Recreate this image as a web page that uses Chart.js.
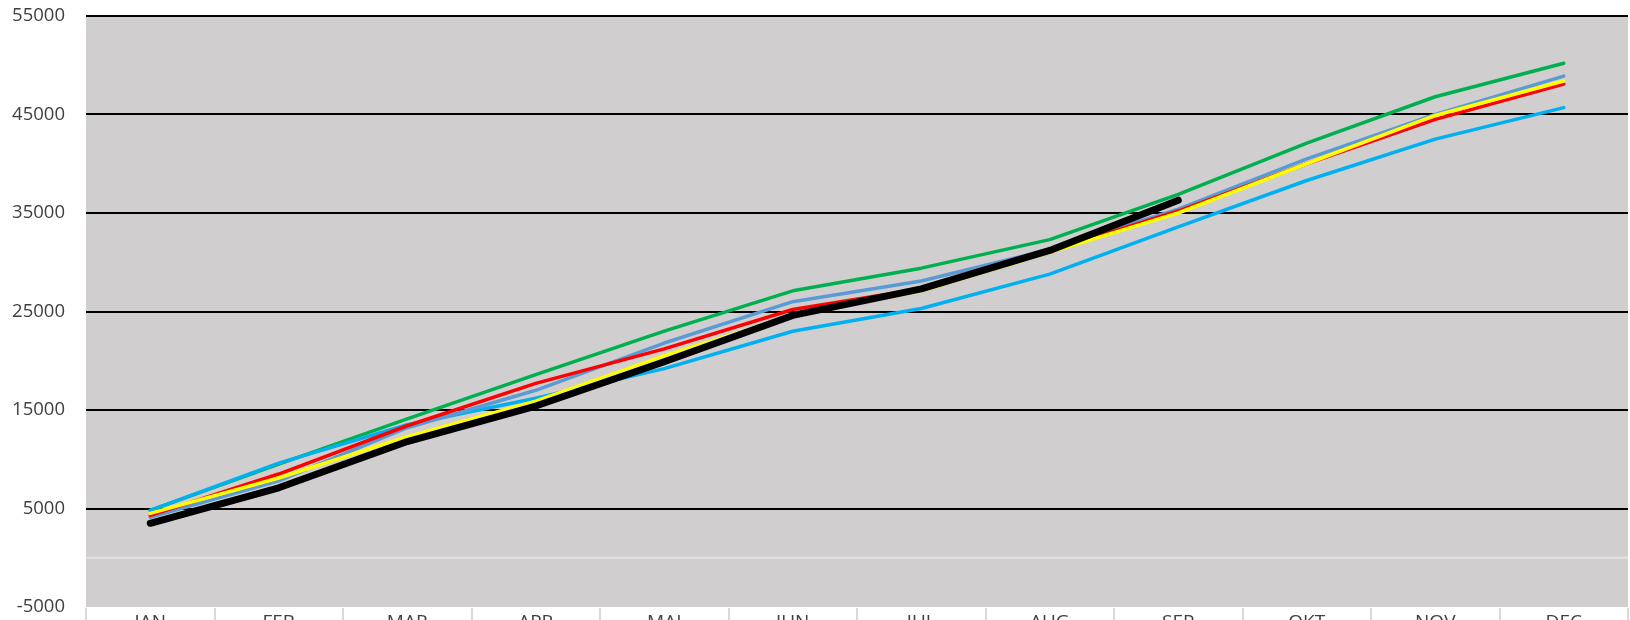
<!DOCTYPE html>
<html>
<head>
<meta charset="utf-8">
<script src="https://cdn.jsdelivr.net/npm/chart.js@4"></script>
<style>
    html, body { margin: 0; padding: 0; background: #fff; overflow: hidden; }
    #wrap { width: 1630px; height: 660px; position: relative; }
</style>
</head>
<body>
<div id="wrap"><canvas id="chart"></canvas></div>
<script>
const months = ["JAN", "FEB", "MAR", "APR", "MAI", "JUN", "JUL", "AUG", "SEP", "OKT", "NOV", "DEC"];

const greenLine = [4800, 9500, 14100, 18600, 23000, 27100, 29400, 32300, 36900, 42100, 46800, 50200];
const cyanLine = [4800, 9600, 13500, 16200, 19200, 23000, 25300, 28800, 33600, 38300, 42500, 45700];
const blueLine = [4100, 7800, 13200, 17000, 21800, 26000, 28100, 31300, 35400, 40500, 45000, 48900];
const redLine = [4300, 8500, 13400, 17700, 21200, 25200, 27300, 31100, 35200, 40000, 44500, 48100];
const yellowLine = [4500, 8100, 12300, 15900, 20500, 24600, 27100, 31000, 35000, 40000, 44900, 48400];
const blackLine = [3500, 7100, 11800, 15400, 19900, 24600, 27300, 31200, 36300];

// grey plot area + light zero line
const plotBg = {
    id: "plotBg",
    beforeDraw(chart) {
        const { ctx, chartArea: a } = chart;
        ctx.save();
        ctx.fillStyle = "#d0cece";
        ctx.fillRect(a.left, a.top, a.right - a.left, a.bottom - a.top);
        ctx.restore();
    },
    beforeDatasetsDraw(chart) {
        const { ctx, chartArea: a } = chart;
        const y = chart.scales.y.getPixelForValue(0);
        ctx.save();
        ctx.strokeStyle = "#e4e2e2";
        ctx.lineWidth = 2;
        ctx.beginPath();
        ctx.moveTo(a.left, y);
        ctx.lineTo(a.right, y);
        ctx.stroke();
        ctx.restore();
    },
};

const line = (data, color, width, order) => ({
    data,
    borderColor: color,
    borderWidth: width,
    pointRadius: 0,
    tension: 0,
    fill: false,
    borderCapStyle: "round",
    borderJoinStyle: "round",
    order,
});

new Chart(document.getElementById("chart"), {
    type: "line",
    data: {
        labels: months,
        datasets: [
            line(greenLine, "#00b050", 3.5, 5),
            line(cyanLine, "#00b0f0", 3.5, 4),
            line(blueLine, "#5b9bd5", 3.5, 3),
            line(redLine, "#ff0000", 3.5, 2),
            line(yellowLine, "#ffff00", 3.5, 1),
            line(blackLine, "#000000", 7, 0),
        ],
    },
    options: {
        responsive: true,
        maintainAspectRatio: false,
        animation: false,
        layout: { padding: { top: 16, right: 2, bottom: 0, left: 0 } },
        plugins: { legend: { display: false }, tooltip: { enabled: false } },
        scales: {
            x: {
                offset: true,
                border: { display: true, color: "#ffffff", width: 1 },
                grid: {
                    offset: true,
                    drawOnChartArea: false,
                    drawTicks: true,
                    tickLength: 40,
                    color: "#d9d9d9",
                    lineWidth: 2,
                },
                ticks: {
                    padding: -36,
                    color: "#404040",
                    font: { family: "Open Sans", size: 19 },
                    maxRotation: 0,
                },
                afterFit: (s) => { s.height = 53; s.paddingLeft = 0; s.paddingRight = 0; },
            },
            y: {
                min: -5000,
                max: 55000,
                border: { display: false },
                grid: {
                    drawTicks: false,
                    color: (c) => (c.tick && c.tick.value === -5000 ? "rgba(0,0,0,0)" : "#000000"),
                    lineWidth: 2,
                },
                ticks: {
                    stepSize: 10000,
                    padding: 21,
                    color: "#404040",
                    font: { family: "Open Sans", size: 18.5 },
                    callback: (v) => String(v),
                },
                afterFit: (s) => { s.width = 86; s.paddingTop = 0; s.paddingBottom = 0; },
            },
        },
    },
    plugins: [plotBg],
});
</script>
</body>
</html>
